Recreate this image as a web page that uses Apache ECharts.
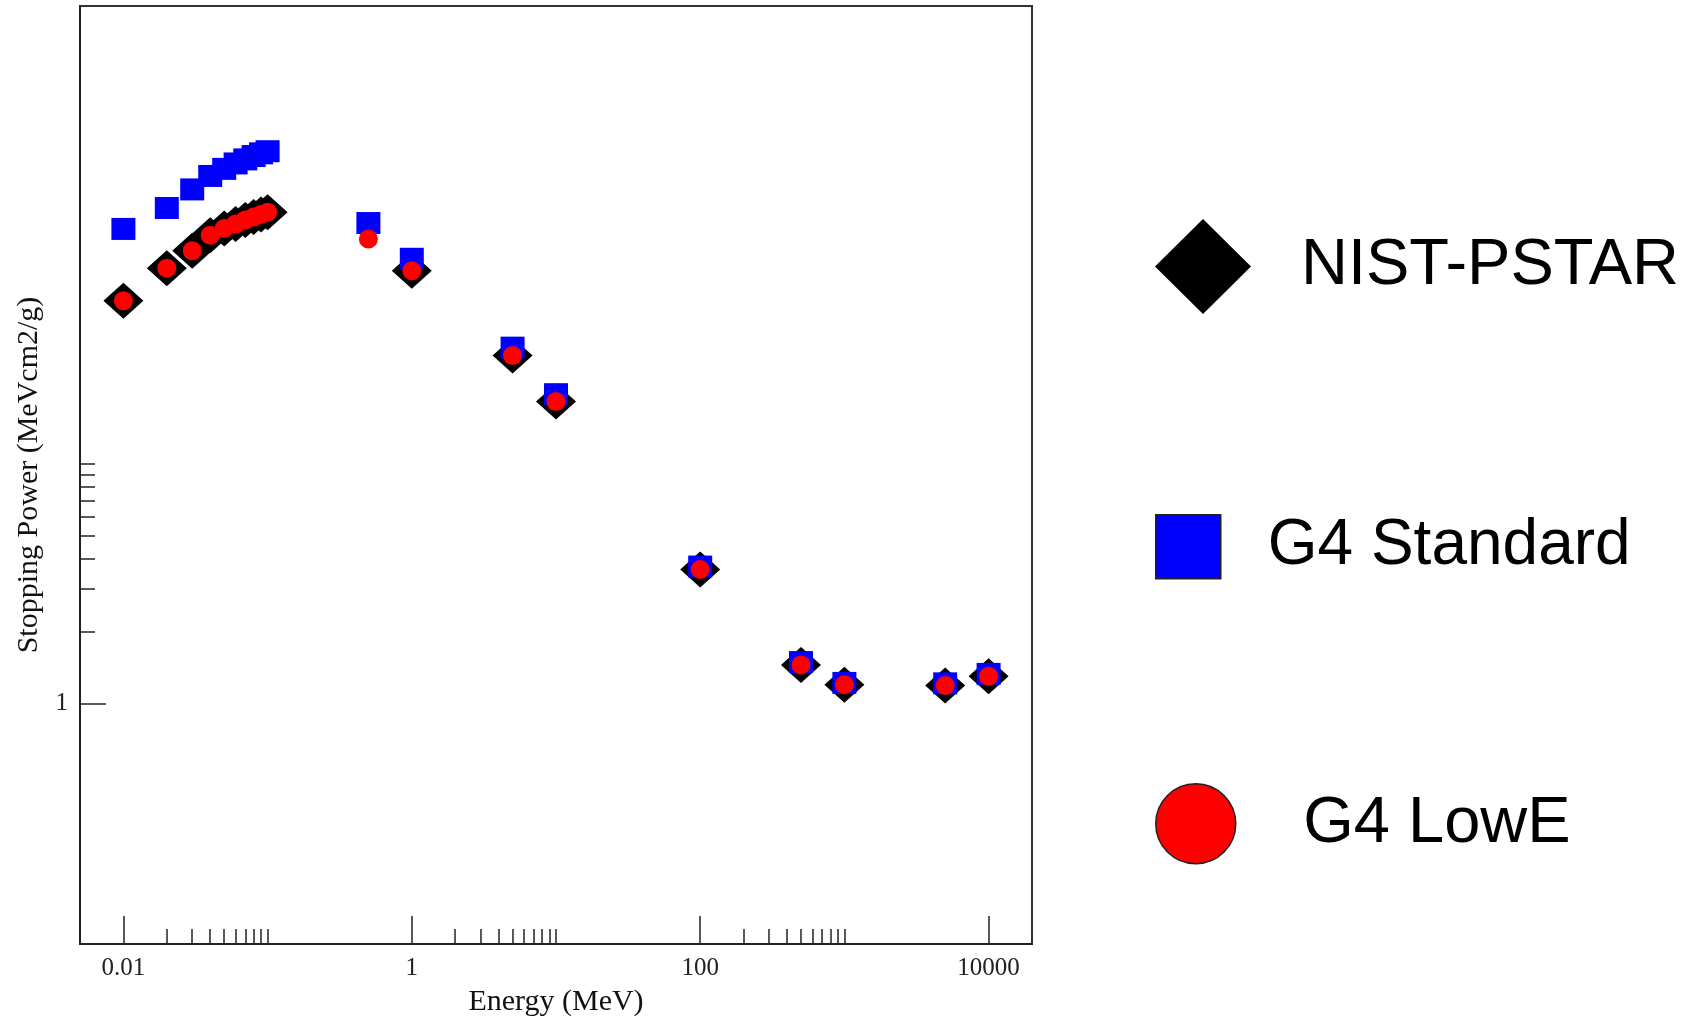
<!DOCTYPE html>
<html><head><meta charset="utf-8">
<script src="https://cdn.jsdelivr.net/npm/echarts@6/dist/echarts.min.js"></script>
<style>html,body{margin:0;padding:0;background:#fff}#c{width:1696px;height:1018px}</style>
</head><body><div id="c"></div>
<script>
// ---- data (Energy in MeV, Stopping Power in MeV cm2/g) ----
const nistEnergy = [0.01,0.02,0.03,0.04,0.05,0.06,0.07,0.08,0.09,0.1,1,5,10,100,500,1000,5000,10000];
const nistPower  = [47.5,64.9,76.7,89,95,99,103,106,108.5,111,63.3,28.1,18.1,3.62,1.45,1.2,1.19,1.3];
const stdEnergy  = [0.01,0.02,0.03,0.04,0.05,0.06,0.07,0.08,0.09,0.1,0.5,1,5,10,100,500,1000,5000,10000];
const stdPower   = [94.5,115.5,138,157,168,177,184,190,195,199,100,71,30.3,19.4,3.72,1.49,1.22,1.215,1.33];
const lowEEnergy = [0.01,0.02,0.03,0.04,0.05,0.06,0.07,0.08,0.09,0.1,0.5,1,5,10,100,500,1000,5000,10000];
const lowEPower  = [47.5,64.9,76.7,89,95,99,103,106,108.5,111,85.8,63.3,28.1,18.1,3.62,1.45,1.2,1.19,1.3];
const xMajorTicks = [0.01, 1, 100, 10000];
const xMinorTicks = [0.02,0.03,0.04,0.05,0.06,0.07,0.08,0.09,0.1,2,3,4,5,6,7,8,9,10,200,300,400,500,600,700,800,900,1000];
const yMajorTicks = [1];
const yMinorTicks = [2,3,4,5,6,7,8,9,10];
const seriesNames = ['NIST-PSTAR','G4 Standard','G4 LowE'];

const pairs = (xs, ys) => xs.map((x, i) => [x, ys[i]]);
const serif = 'Liberation Serif';
const sans = 'Liberation Sans';
const X_MIN = 0.005, X_MAX = 20000, Y_MIN = 0.1, Y_MAX = 800;

const chart = echarts.init(document.getElementById('c'), null, {renderer: 'canvas'});
chart.setOption({
  animation: false,
  backgroundColor: '#fff',
  grid: {left: 80, top: 6, width: 952, height: 938, containLabel: false, outerBoundsMode: 'none',
         show: true, borderColor: '#333', borderWidth: 2, backgroundColor: 'transparent'},
  xAxis: [{
    type: 'log', min: X_MIN, max: X_MAX, position: 'bottom',
    name: 'Energy (MeV)', nameLocation: 'middle', nameGap: 43,
    nameTextStyle: {fontFamily: serif, fontSize: 30, color: '#111'},
    axisLine: {show: true, lineStyle: {color: '#222', width: 2}},
    axisTick: {show: true, inside: true, length: 28, customValues: xMajorTicks, lineStyle: {color: '#222', width: 1.5}},
    axisLabel: {show: true, customValues: xMajorTicks, margin: 12, fontFamily: serif, fontSize: 25, color: '#222', formatter: v => String(v)},
    splitLine: {show: false}, minorTick: {show: false}
  }, {
    type: 'log', min: X_MIN, max: X_MAX, position: 'bottom', gridIndex: 0,
    axisLine: {show: false},
    axisTick: {show: true, inside: true, length: 15, customValues: xMinorTicks, lineStyle: {color: '#222', width: 1.5}},
    axisLabel: {show: false}, splitLine: {show: false}
  }],
  yAxis: [{
    type: 'log', min: Y_MIN, max: Y_MAX, position: 'left',
    name: 'Stopping Power (MeVcm2/g)', nameLocation: 'middle', nameGap: 35,
    nameTextStyle: {fontFamily: serif, fontSize: 30, color: '#111'},
    axisLine: {show: true, lineStyle: {color: '#222', width: 2}},
    axisTick: {show: true, inside: true, length: 26, customValues: yMajorTicks, lineStyle: {color: '#222', width: 1.5}},
    axisLabel: {show: true, customValues: yMajorTicks, margin: 12, fontFamily: serif, fontSize: 25, color: '#222', formatter: v => String(v)},
    splitLine: {show: false}
  }, {
    type: 'log', min: Y_MIN, max: Y_MAX, position: 'left', gridIndex: 0,
    axisLine: {show: false},
    axisTick: {show: true, inside: true, length: 15, customValues: yMinorTicks, lineStyle: {color: '#222', width: 1.5}},
    axisLabel: {show: false}, splitLine: {show: false}
  }],
  legend: [
    {data: [{name: seriesNames[0], icon: 'diamond'}], left: 1155, top: 219, padding: 0, itemWidth: 96, itemHeight: 95, selectedMode: false,
     itemStyle: {borderWidth: 0},
     textStyle: {fontFamily: sans, fontSize: 65, color: '#000', padding: [13, 0, 0, 45]}},
    {data: [{name: seriesNames[1], icon: 'rect'}], left: 1155, top: 514, padding: 0, itemWidth: 65, itemHeight: 64, selectedMode: false,
     itemStyle: {borderColor: '#222', borderWidth: 1.5},
     textStyle: {fontFamily: sans, fontSize: 64, color: '#000', padding: [9, 0, 0, 42]}},
    {data: [{name: seriesNames[2], icon: 'circle'}], left: 1155, top: 783, padding: 0, itemWidth: 81, itemHeight: 80, selectedMode: false,
     itemStyle: {borderColor: '#222', borderWidth: 1.5},
     textStyle: {fontFamily: sans, fontSize: 65, color: '#000', padding: [8, 0, 0, 62]}}
  ],
  series: [
    {name: seriesNames[0], type: 'scatter', xAxisIndex: 0, yAxisIndex: 0, symbol: 'diamond', symbolSize: [40, 36],
     itemStyle: {color: '#000', opacity: 1}, data: pairs(nistEnergy, nistPower), z: 2},
    {name: seriesNames[1], type: 'scatter', xAxisIndex: 0, yAxisIndex: 0, symbol: 'rect', symbolSize: [24, 22],
     itemStyle: {color: '#0000ff', opacity: 1}, data: pairs(stdEnergy, stdPower), z: 3},
    {name: seriesNames[2], type: 'scatter', xAxisIndex: 0, yAxisIndex: 0, symbol: 'circle', symbolSize: 19,
     itemStyle: {color: '#ff0000', opacity: 1}, data: pairs(lowEEnergy, lowEPower), z: 4}
  ]
});
</script></body></html>
